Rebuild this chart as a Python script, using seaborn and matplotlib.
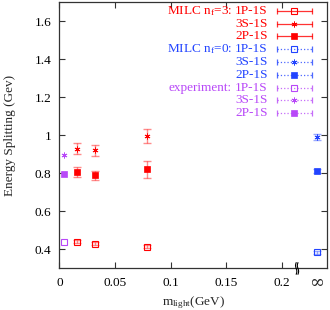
import numpy as np
import pandas as pd
import matplotlib
matplotlib.use("Agg")
import matplotlib.pyplot as plt
import seaborn as sns
from matplotlib.transforms import blended_transform_factory

sns.set_theme(style="ticks")
plt.rcParams['font.family'] = ['Liberation Serif', 'DejaVu Serif']
plt.rcParams['mathtext.fontset'] = 'custom'
plt.rcParams['mathtext.rm'] = 'Liberation Serif'
plt.rcParams['mathtext.it'] = 'Liberation Serif'

# ---- data ----
states = ["1P-1S", "3S-1S", "2P-1S"]
milc3_mlight = [0.016, 0.032, 0.079]
milc3_1p = [0.441, 0.431, 0.415]
milc3_1p_err = [0.008, 0.008, 0.008]
milc3_3s = [0.929, 0.921, 0.997]
milc3_3s_err = [0.028, 0.030, 0.036]
milc3_2p = [0.808, 0.789, 0.821]
milc3_2p_err = [0.025, 0.025, 0.045]

inf_x = 0.231
milc0_1p = [0.386]
milc0_1p_err = [0.008]
milc0_3s = [0.99]
milc0_3s_err = [0.015]
milc0_2p = [0.812]
milc0_2p_err = [0.010]

exp_mlight = [0.004]
exp_1p = [0.440]
exp_3s = [0.895]
exp_2p = [0.797]

xticks = [0, 0.05, 0.1, 0.15, 0.2]
xticklabels = ["0", "0.05", "0.1", "0.15", "0.2"]
yticks = [0.4, 0.6, 0.8, 1.0, 1.2, 1.4, 1.6]
yticklabels = ["0.4", "0.6", "0.8", "1", "1.2", "1.4", "1.6"]

RED = "#ff0000"
BLUE = "#2244ff"
PURP = "#b848f8"

fig = plt.figure(figsize=(3.3, 3.1), dpi=100)
ax = fig.add_axes([0.180, 0.134, 0.811, 0.8595])

markers = {"1P-1S": dict(marker="s", mfc="none", ms=4.5, mew=0.8),
           "3S-1S": dict(marker=(6, 2, 0), ms=4.2, mew=0.6),
           "2P-1S": dict(marker="s", ms=5, mew=0.5)}

def draw(xs, ys, es, color, st):
    df = pd.DataFrame({"x": xs, "y": ys})
    m = markers[st]
    if es is not None:
        ax.errorbar(xs, ys, yerr=es, fmt="none", ecolor=color, alpha=0.45,
                    elinewidth=1.0, capsize=3, capthick=1.0, zorder=2)
    kw = dict(color=color, mec=color, linestyle="none", zorder=3)
    kw.update(m)
    if "mfc" not in kw:
        kw["mfc"] = color
    ax.plot(df["x"], df["y"], **kw)

draw(milc3_mlight, milc3_1p, milc3_1p_err, RED, "1P-1S")
draw(milc3_mlight, milc3_3s, milc3_3s_err, RED, "3S-1S")
draw(milc3_mlight, milc3_2p, milc3_2p_err, RED, "2P-1S")
draw([inf_x], milc0_1p, milc0_1p_err, BLUE, "1P-1S")
draw([inf_x], milc0_3s, milc0_3s_err, BLUE, "3S-1S")
draw([inf_x], milc0_2p, milc0_2p_err, BLUE, "2P-1S")
draw(exp_mlight, exp_1p, None, PURP, "1P-1S")
draw(exp_mlight, exp_3s, None, PURP, "3S-1S")
draw(exp_mlight, exp_2p, None, PURP, "2P-1S")

ax.set_xlim(0, 0.2404)
ax.set_ylim(0.3, 1.7)
ax.set_xticks(xticks)
ax.set_xticklabels(xticklabels)
ax.set_yticks(yticks)
ax.set_yticklabels(yticklabels)
ax.tick_params(direction="in", top=True, right=True, length=4, width=0.8,
               labelsize=9.5, pad=6, colors="#333333", labelcolor="black")
for s in ax.spines.values():
    s.set_linewidth(0.9)
    s.set_color("#333333")
ax.set_ylabel("Energy Splitting (Gev)", fontsize=9.5, labelpad=13)
ax.set_xlabel(r"m$_{\rm light}$(GeV)", fontsize=9.5, labelpad=4)

# infinity label and axis break
bt = blended_transform_factory(ax.transData, ax.transAxes)
ax.text(inf_x, -0.022, "∞", transform=bt, ha="center", va="top", fontsize=13,
        family="DejaVu Serif")
yy = np.linspace(-0.022, 0.022, 9)
wig = 0.0006 * np.sin(np.linspace(0, 2 * np.pi, 9))
for dx in (-0.0008, 0.0008):
    ax.plot(0.2135 + dx + wig, yy, transform=bt, color="black", lw=0.8,
            clip_on=False, zorder=5)

# legend (gnuplot style)
groups = [("MILC n$_{\\rm f}$=3:", RED, "-"),
          ("MILC n$_{\\rm f}$=0:", BLUE, ":"),
          ("experiment:", PURP, ":")]
rows_px = [11, 23.7, 36.3, 49, 61.7, 74.5, 88, 100.5, 113]
row_frac = [1 - (p - 2) / 266.5 for p in rows_px]
x_text = 0.778
x_group = 0.644
x0, x1, xm = 0.813, 0.944, 0.877
i = 0
for gname, col, ls in groups:
    ax.text(x_group, row_frac[i], gname, transform=ax.transAxes, ha="right",
            va="center", color=col, fontsize=9.5)
    for st in states:
        y = row_frac[i]
        ax.text(x_text, y, st, transform=ax.transAxes, ha="right", va="center",
                color=col, fontsize=9.5)
        ax.plot([x0, x1], [y, y], transform=ax.transAxes, color=col, lw=0.9,
                ls=ls, alpha=0.8)
        ax.plot([x0, x1], [y, y], transform=ax.transAxes, color=col,
                linestyle="none", marker="|", ms=5, mew=0.9, alpha=0.8)
        m = dict(markers[st])
        kw = dict(color=col, mec=col, linestyle="none", transform=ax.transAxes)
        kw.update(m)
        if "mfc" not in kw:
            kw["mfc"] = col
        ax.plot([xm], [y], **kw)
        i += 1

fig.savefig("out.png", dpi=100)
